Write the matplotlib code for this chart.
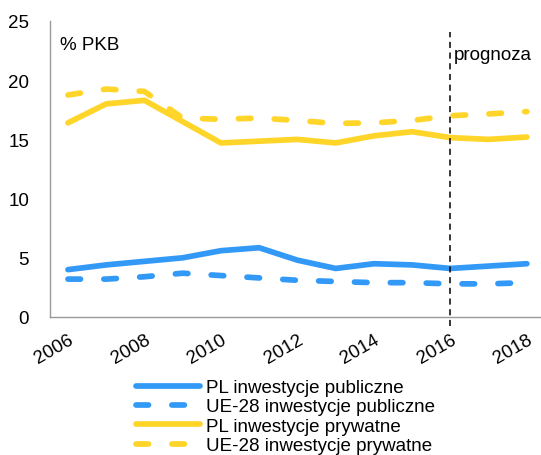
import matplotlib.pyplot as plt

plt.rcParams['font.family'] = ['Liberation Sans', 'DejaVu Sans']

# Data (% PKB)
years = list(range(2006, 2019))
pl_public = [4.0, 4.4, 4.7, 5.0, 5.6, 5.85, 4.8, 4.1, 4.5, 4.4, 4.1, 4.3, 4.5]
eu_public = [3.2, 3.2, 3.4, 3.7, 3.5, 3.3, 3.1, 3.0, 2.9, 2.9, 2.8, 2.8, 2.9]
pl_private = [16.4, 18.0, 18.3, 16.5, 14.7, 14.85, 15.0, 14.7, 15.3, 15.65, 15.15, 15.0, 15.2]
eu_private = [18.75, 19.25, 19.05, 16.8, 16.7, 16.8, 16.6, 16.35, 16.4, 16.6, 17.0, 17.15, 17.35]

labels = ['PL inwestycje publiczne', 'UE-28 inwestycje publiczne',
          'PL inwestycje prywatne', 'UE-28 inwestycje prywatne']

blue = '#3399f7'
yellow = '#ffd52a'
W, H = 541, 456
fs = 13.5

fig = plt.figure(figsize=(W / 100, H / 100), dpi=100)
ax = fig.add_axes([50 / W, 1 - 318 / H, 491 / W, 296 / H])

lw = 4.1
dash = (2.2, 4.1)
ax.plot(years, pl_public, color=blue, lw=lw, solid_capstyle='round', label=labels[0])
ax.plot(years, eu_public, color=blue, lw=lw, dashes=dash, dash_capstyle='round', label=labels[1])
ax.plot(years, pl_private, color=yellow, lw=lw, solid_capstyle='round', label=labels[2])
ax.plot(years, eu_private, color=yellow, lw=lw, dashes=dash, dash_capstyle='round', label=labels[3])

ax.axvline(2016, ymin=-0.03, ymax=0.963, color='black', lw=1.1, ls=(0, (4, 3)), clip_on=False)
ax.text(2016.08, 22.2, 'prognoza', fontsize=fs, va='center', ha='left')
ax.text(2005.8, 23.0, '% PKB', fontsize=fs, va='center', ha='left')

ax.set_xlim(2005.53, 2018.37)
ax.set_ylim(0, 25)
ax.set_yticks([0, 5, 10, 15, 20, 25])
ax.set_xticks(years[::2])
ax.set_xticklabels([str(y) for y in years[::2]], rotation=30, ha='right',
                   rotation_mode='anchor')
ax.tick_params(length=0, labelsize=fs)
ax.tick_params(axis='y', pad=15)
ax.tick_params(axis='x', pad=10)

for s in ['top', 'right']:
    ax.spines[s].set_visible(False)
for s in ['left', 'bottom']:
    ax.spines[s].set_color('#999999')
    ax.spines[s].set_linewidth(1.0)

leg = fig.legend(loc='upper left', bbox_to_anchor=(136 / W, 1 - 380 / H), frameon=False,
                 fontsize=fs, handlelength=3.4, handletextpad=0.35, labelspacing=0.12,
                 borderaxespad=0, borderpad=0)

fig.savefig('out.png', dpi=100)
